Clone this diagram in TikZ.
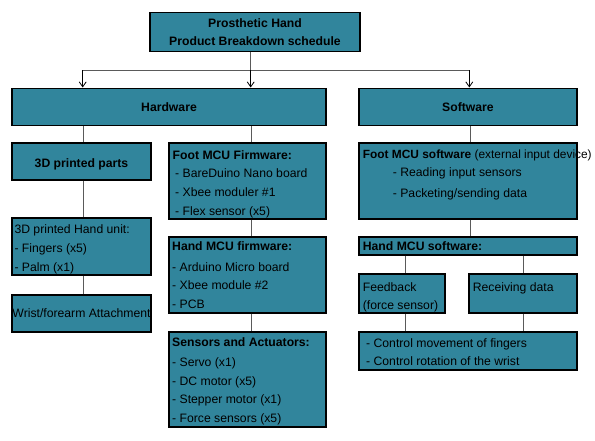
\documentclass[tikz,border=0pt]{standalone}
\usepackage{fontspec}
\setmainfont{Liberation Sans}
\usetikzlibrary{arrows.meta}
\definecolor{boxteal}{HTML}{31859C}
\definecolor{linegray}{HTML}{5A5A5A}
\tikzset{
  pbox/.style={draw=black, line width=1.1pt, fill=boxteal, inner sep=0pt},
  txt/.style={inner sep=0pt, anchor=base west, font=\fontsize{12.2}{14}\selectfont},
  btxt/.style={txt, font=\fontsize{12.2}{14}\selectfont\bfseries},
  ctxt/.style={inner sep=0pt, anchor=base, font=\fontsize{12.2}{14}\selectfont\bfseries},
  conn/.style={draw=linegray, line width=0.8pt},
  arr/.style={draw=black, line width=0.8pt, -{Straight Barb[length=5pt,width=7pt]}}
}
\newcommand\boxtext[5]{%
  \foreach \t [count=\i] in {#5} \node[txt] (#1\i) at (#2,{#3+(\i-1)*#4}) {\t};}
\begin{document}
\begin{tikzpicture}[x=1pt,y=-1pt]
\useasboundingbox (0,0) rectangle (595,440);
% boxes
\node[pbox, minimum width=210pt, minimum height=38.5pt] (title) at (255,31.8) {};
\node[pbox, minimum width=314pt, minimum height=37.5pt] (hw) at (169,106.8) {};
\node[pbox, minimum width=218pt, minimum height=37.5pt] (sw) at (468,106.8) {};
\node[pbox, minimum width=139pt, minimum height=37pt] (parts) at (81.5,161.5) {};
\node[pbox, minimum width=157pt, minimum height=76pt] (footfw) at (247.5,181) {};
\node[pbox, minimum width=218pt, minimum height=76pt] (footsw) at (468,181) {};
\node[pbox, minimum width=139pt, minimum height=57pt] (handunit) at (81.5,246.5) {};
\node[pbox, minimum width=157pt, minimum height=76pt] (handfw) at (247.5,275) {};
\node[pbox, minimum width=218pt, minimum height=18pt] (handsw) at (468,246) {};
\node[pbox, minimum width=86pt, minimum height=39pt] (feedback) at (402,293.5) {};
\node[pbox, minimum width=108pt, minimum height=39pt] (recv) at (523,293.5) {};
\node[pbox, minimum width=139pt, minimum height=37pt] (wrist) at (81.5,313.5) {};
\node[pbox, minimum width=157pt, minimum height=95pt] (sensors) at (247.5,379.5) {};
\node[pbox, minimum width=218pt, minimum height=38pt] (control) at (468,351) {};
% connectors
\coordinate (a1) at (82.7,70);
\coordinate (a2) at (250.7,70);
\coordinate (a3) at (469.3,70);
\draw[conn] (title.south -| a2) -- (a2);
\draw[conn] (a1) -- (a3);
\draw[arr] (a1) -- (a1 |- hw.north);
\draw[arr] (a2) -- (a2 |- hw.north);
\draw[arr] (a3) -- (a3 |- sw.north);
\coordinate (c1) at (83,0);
\coordinate (c2) at (251,0);
\coordinate (c3) at (470,0);
\coordinate (c4) at (405.7,0);
\coordinate (c5) at (523.3,0);
\draw[conn] (hw.south -| c1) -- (parts.north -| c1);
\draw[conn] (hw.south -| c2) -- (footfw.north -| c2);
\draw[conn] (sw.south -| c3) -- (footsw.north -| c3);
\draw[conn] (parts.south -| c1) -- (handunit.north -| c1);
\draw[conn] (handunit.south -| c1) -- (wrist.north -| c1);
\draw[conn] (footfw.south -| c2) -- (handfw.north -| c2);
\draw[conn] (handfw.south -| c2) -- (sensors.north -| c2);
\draw[conn] (footsw.south -| c3) -- (handsw.north -| c3);
\draw[conn] (handsw.south -| c4) -- (feedback.north -| c4);
\draw[conn] (handsw.south -| c5) -- (recv.north -| c5);
\draw[conn] (feedback.south -| c4) -- (control.north -| c4);
\draw[conn] (recv.south -| c5) -- (control.north -| c5);
% texts
\node[ctxt] (tt1) at (255,27.4) {Prosthetic Hand};
\node[ctxt] (tt2) at (255,45.4) {Product Breakdown schedule};
\node[ctxt] (thw) at (169,111.4) {Hardware};
\node[ctxt] (tsw) at (468,111.4) {Software};
\node[ctxt] (tparts) at (81.5,167.1) {3D printed parts};
\node[btxt] (tff) at (172.5,159.4) {Foot MCU Firmware:};
\boxtext{tffi}{175}{177.4}{19}{{- BareDuino Nano board},{- Xbee moduler \#1},{- Flex sensor (x5)}}
\node[txt, font=\fontsize{11.9}{14}\selectfont] (tfs) at (362.7,158.4) {\textbf{Foot MCU software} (external input device)};
\boxtext{tfsi}{392.7}{176.4}{21}{{- Reading input sensors},{- Packeting/sending data}}
\boxtext{thu}{14.3}{233.4}{19}{{3D printed Hand unit:},{- Fingers (x5)},{- Palm (x1)}}
\node[btxt] (thf) at (172,250.4) {Hand MCU firmware:};
\boxtext{thfi}{172}{271.4}{18.5}{{- Arduino Micro board},{- Xbee module \#2},{- PCB}}
\node[btxt] (ths) at (362.7,250.4) {Hand MCU software:};
\boxtext{tfb}{362.7}{291.4}{18}{{Feedback},{(force sensor)}}
\node[txt] (trd) at (472.7,291.4) {Receiving data};
\node[txt, anchor=base] (twr) at (81.5,317.8) {Wrist/forearm Attachment};
\node[btxt] (tsa) at (172,346.4) {Sensors and Actuators:};
\boxtext{tsai}{172}{366.4}{18.7}{{- Servo (x1)},{- DC motor (x5)},{- Stepper motor (x1)},{- Force sensors (x5)}}
\boxtext{tci}{366}{347.4}{18}{{- Control movement of fingers},{- Control rotation of the wrist}}
\end{tikzpicture}
\end{document}
